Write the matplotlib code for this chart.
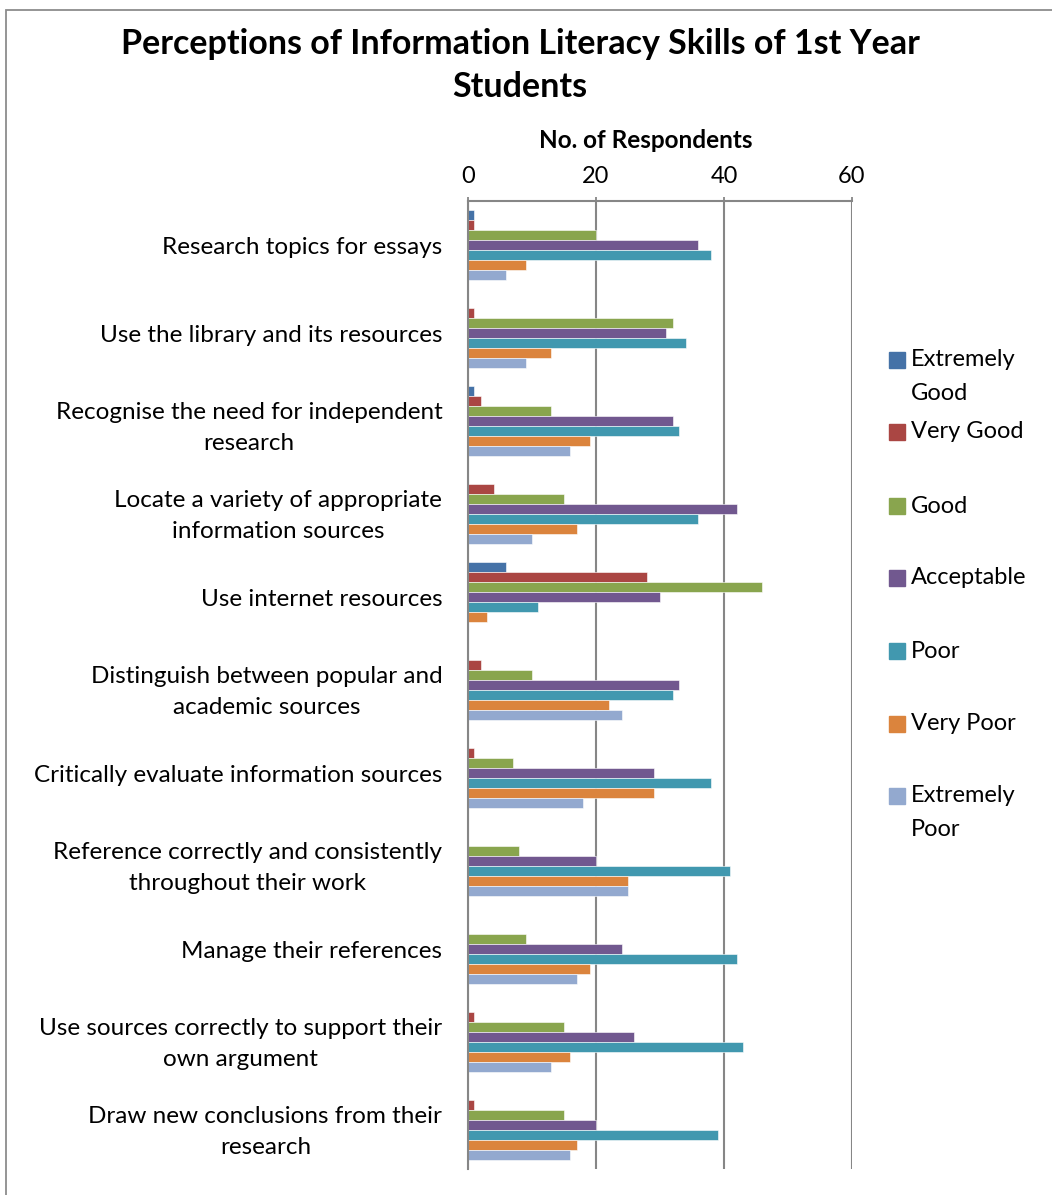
import matplotlib
matplotlib.use("Agg")
import matplotlib.pyplot as plt
import numpy as np
from matplotlib.patches import Rectangle

plt.rcParams['font.family'] = ['Lato', 'DejaVu Sans']

skills = [
    "Research topics for essays",
    "Use the library and its resources",
    "Recognise the need for independent\nresearch",
    "Locate a variety of appropriate\ninformation sources",
    "Use internet resources",
    "Distinguish between popular and\nacademic sources",
    "Critically evaluate information sources",
    "Reference correctly and consistently\nthroughout their work",
    "Manage their references",
    "Use sources correctly to support their\nown argument",
    "Draw new conclusions from their\nresearch",
]

ratings = ["Extremely\nGood", "Very Good", "Good", "Acceptable", "Poor",
           "Very Poor", "Extremely\nPoor"]

extremely_good = [1, 0, 1, 0, 6, 0, 0, 0, 0, 0, 0]
very_good      = [1, 1, 2, 4, 28, 2, 1, 0, 0, 1, 1]
good           = [20, 32, 13, 15, 46, 10, 7, 8, 9, 15, 15]
acceptable     = [36, 31, 32, 42, 30, 33, 29, 20, 24, 26, 20]
poor           = [38, 34, 33, 36, 11, 32, 38, 41, 42, 43, 39]
very_poor      = [9, 13, 19, 17, 3, 22, 29, 25, 19, 16, 17]
extremely_poor = [6, 9, 16, 10, 0, 24, 18, 25, 17, 13, 16]

series = [extremely_good, very_good, good, acceptable, poor, very_poor, extremely_poor]
colors = ["#4572A7", "#AA4643", "#89A54E", "#71588F", "#4198AF", "#DB843D", "#93A9CF"]

W, H = 1052, 1195
fig = plt.figure(figsize=(W / 100, H / 100), dpi=100)

# outer chart frame (runs past the right and bottom edges)
fig.patches.append(Rectangle((6 / W, -0.05), 1.2, 1 - 10 / H + 0.05,
                             transform=fig.transFigure, fill=False,
                             edgecolor="#8c8c8c", linewidth=1.3))

left, right, top, bottom = 468, 852, 201, 1169
ax = fig.add_axes([left / W, 1 - bottom / H, (right - left) / W, (bottom - top) / H])

n = len(skills)
y = np.arange(n)
h = 10 / 88
for j, (vals, col, lab) in enumerate(zip(series, colors, ratings)):
    ax.barh(y + (j - 3) * h, vals, height=h, color=col, label=lab,
            edgecolor="white", linewidth=0.4, zorder=3)

ax.set_xlim(0, 60)
ax.set_ylim(n - 0.5, -0.5)
ax.set_xticks([0, 20, 40, 60])
ax.xaxis.tick_top()
ax.tick_params(axis="x", which="both", length=3, width=1.3, color="#868686",
               labelsize=17, pad=7, direction="out")
ax.set_yticks(y)
ax.set_yticklabels(skills, fontsize=17.5, linespacing=1.6)
for t in ax.get_yticklabels():
    t.set_multialignment("center")
ax.tick_params(axis="y", length=0, pad=18.5)

ax.grid(axis="x", color="#868686", linewidth=1.5, zorder=0)
for s in ["right", "bottom"]:
    ax.spines[s].set_visible(False)
for s in ["left", "top"]:
    ax.spines[s].set_color("#868686")
    ax.spines[s].set_linewidth(1.5)
    ax.spines[s].set_zorder(5)

fig.text(646 / W, 1 - 140 / H, "No. of Respondents", ha="center", va="center",
         fontsize=17.5, fontweight="bold")

fig.text(520 / W, 1 - 44 / H, "Perceptions of Information Literacy Skills of 1st Year",
         ha="center", va="center", fontsize=24.5, fontweight="bold")
fig.text(520 / W, 1 - 87 / H, "Students",
         ha="center", va="center", fontsize=24.5, fontweight="bold")

# legend on the right, one entry per rating
leg_y = [360, 432, 506, 578, 651, 724, 796]
for yy, col, lab in zip(leg_y, colors, ratings):
    fig.patches.append(Rectangle((889 / W, 1 - (yy + 8) / H), 16 / W, 16 / H,
                                 transform=fig.transFigure, color=col))
    for k, line in enumerate(lab.split("\n")):
        fig.text(911 / W, 1 - (yy + 33 * k) / H, line, ha="left", va="center",
                 fontsize=17)

fig.savefig("out.png", dpi=100)
